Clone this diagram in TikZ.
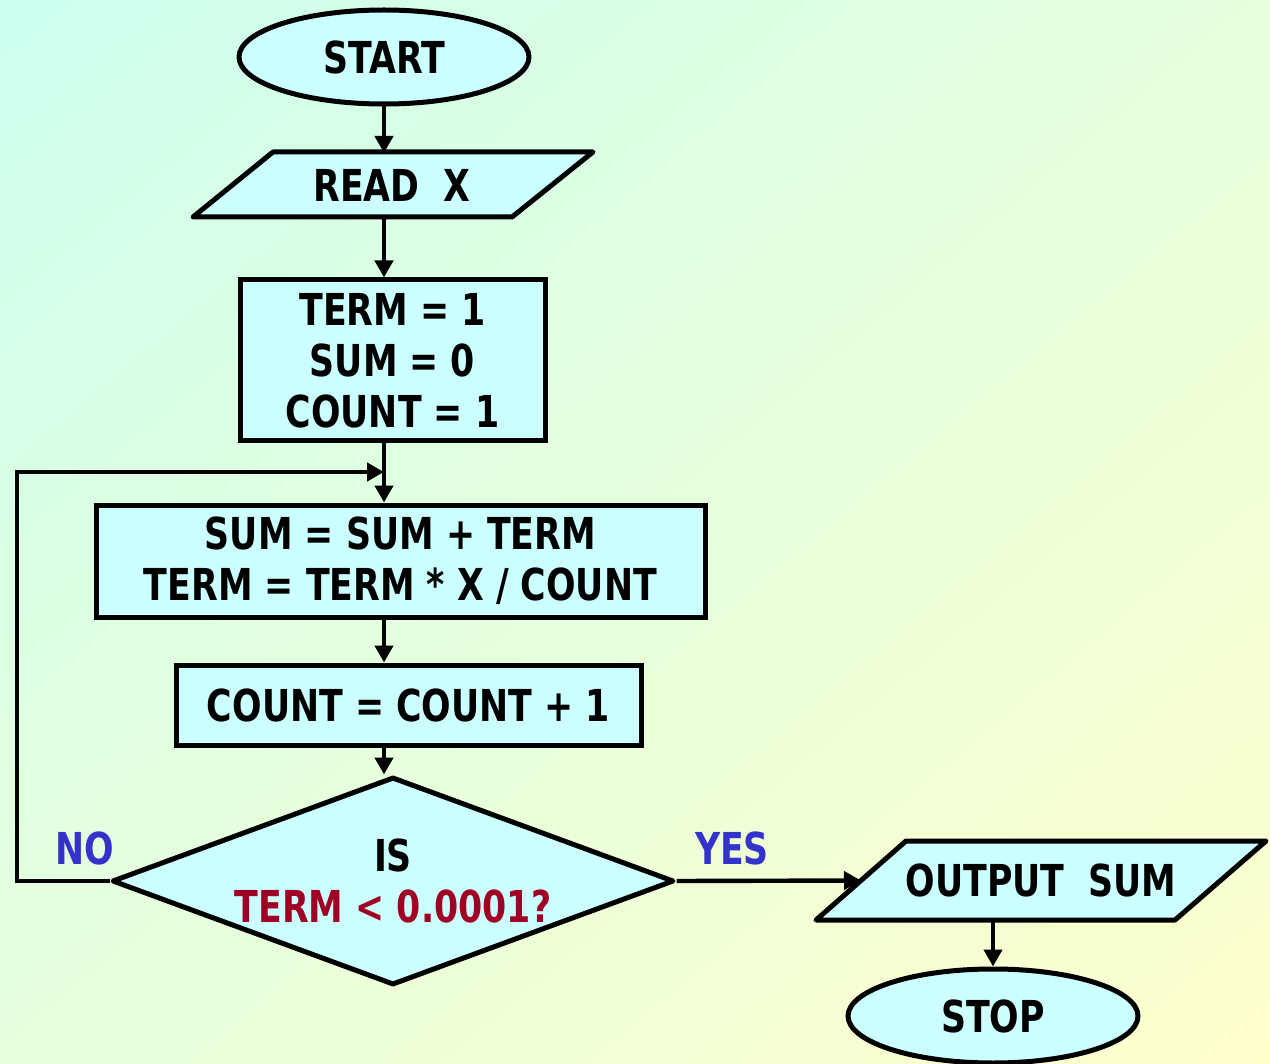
\documentclass[tikz,border=0pt]{standalone}
\usepackage{fontspec}
\setmainfont[FakeStretch=0.79]{DejaVu Sans}
\usetikzlibrary{shapes.geometric,arrows.meta,shadings}

\definecolor{boxfill}{RGB}{204,255,255}
\definecolor{yesno}{RGB}{51,51,204}
\definecolor{condred}{RGB}{160,0,36}
\definecolor{bgA}{RGB}{204,255,238}
\definecolor{bgB}{RGB}{255,255,204}
\definecolor{bgM}{RGB}{230,255,221}

\begin{document}
\begin{tikzpicture}[x=0.5pt,y=-0.5pt,
  every node/.style={font=\bfseries\fontsize{22}{25.5}\selectfont},
  shapebase/.style={draw=black, line width=2.5pt, fill=boxfill, inner sep=0pt, line join=round},
  terminal/.style={shapebase, ellipse, minimum width=145pt, minimum height=47pt},
  process/.style={shapebase, rectangle, align=center, line join=miter},
  iotext/.style={rectangle, inner sep=0pt, outer sep=0pt},
  decision/.style={shapebase, diamond},
  arr/.style={line width=2.2pt, -{Triangle[length=8.5pt,width=9pt]}}]

  % background
  \useasboundingbox (0,0) rectangle (1270,1064);
  \shade[upper left=bgA, upper right=bgM, lower left=bgM, lower right=bgB]
    (0,0) rectangle (1270,1064);

  % blocks
  \node[terminal] (start) at (384,57) {START};

  \draw[shapebase] (193,217) -- (273,152) -- (593,152) -- (512,217) -- cycle;
  \node[iotext, minimum width=160pt, minimum height=32.5pt] (read) at (392,185.5) {READ\ \ X};

  \node[process, minimum width=152.5pt, minimum height=80pt, text depth=-2pt] (init) at (392.5,360)
    {TERM = 1\\SUM = 0\\COUNT = 1};
  \node[process, minimum width=304.5pt, minimum height=56pt] (update) at (400.5,561)
    {SUM = SUM + TERM\\TERM = TERM * X / COUNT};
  \node[process, minimum width=232.5pt, minimum height=40pt] (incr) at (408.5,705)
    {COUNT = COUNT + 1};
  \node[decision, minimum width=281pt, minimum height=104pt] (test) at (393,881) {};
  \node[align=center] (testtext) at (test.center)
    {IS\\\textcolor{condred}{TERM < 0.0001?}};

  \draw[shapebase] (816,920) -- (906,841) -- (1266,841) -- (1175,920) -- cycle;
  \node[iotext, minimum width=180pt, minimum height=39.5pt] (out) at (1041,880.5) {OUTPUT\ \ SUM};
  \coordinate (outin) at (861,880.5);

  \node[terminal] (stop) at (993,1016) {STOP};

  % branch labels
  \node[text=yesno] (no) at (85,848) {NO};
  \node[text=yesno] (yes) at (732,848) {YES};

  % connectors
  \coordinate (spine) at (384,0);
  \coordinate (loopcorner) at (17,472);
  \coordinate (loopjoin) at (384,472);
  \draw[arr] (start.south) -- (start.south |- read.north);
  \draw[arr] (spine |- read.south) -- (spine |- init.north);
  \draw[arr] (spine |- init.south) -- (spine |- update.north);
  \draw[arr] (test.west) -| (loopcorner) -- (loopjoin);
  \draw[arr] (spine |- update.south) -- (spine |- incr.north);
  \draw[arr] (spine |- incr.south) -- (spine |- test.north);
  \draw[arr] (test.east) -- (outin);
  \draw[arr] (stop.north |- out.south) -- (stop.north);
\end{tikzpicture}
\end{document}
